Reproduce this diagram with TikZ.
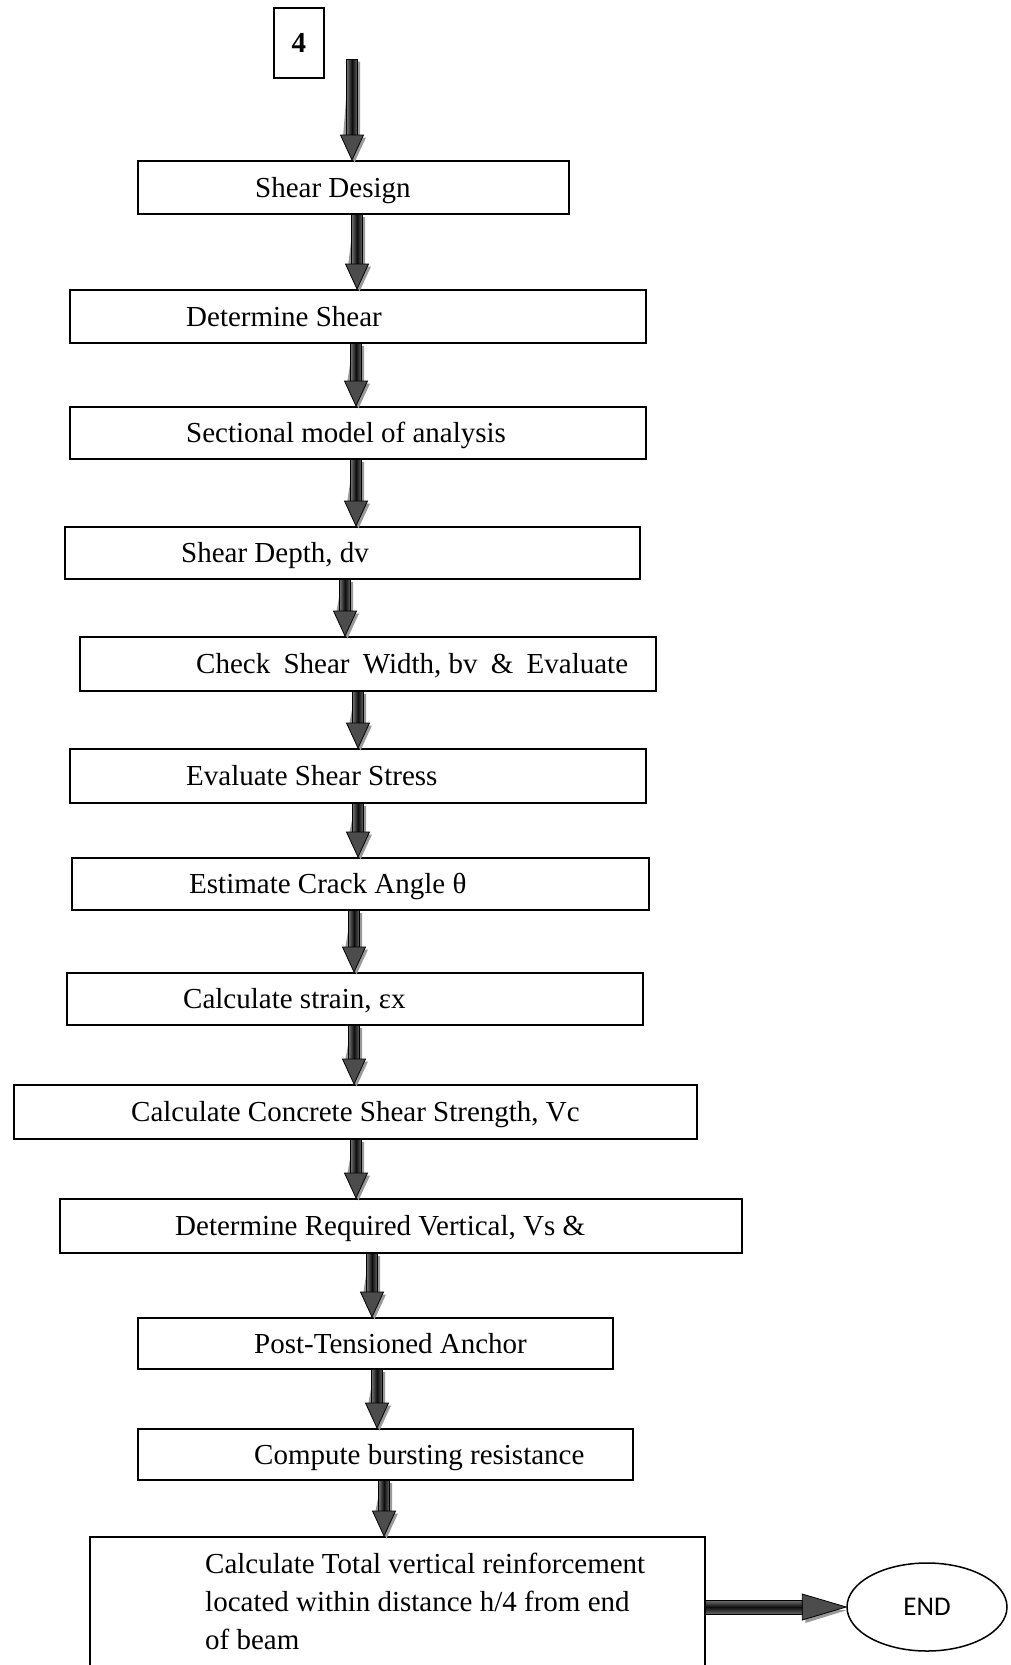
\documentclass[tikz,border=0pt]{standalone}
\usepackage{fontspec}
\setmainfont{Liberation Serif}
\newfontfamily\endfont{Carlito}
\usetikzlibrary{calc,shapes.geometric}

\tikzset{
  stepbox/.style={draw, line width=1.7pt, rectangle, inner sep=0pt},
  lbl/.style={anchor=base west, inner sep=0pt, font=\fontsize{29}{38}\selectfont},
  shaftv/.style={left color=black!55, right color=black!60, middle color=black!95},
  shafth/.style={top color=black!55, bottom color=black!60, middle color=black!95},
  headfill/.style={fill=black!70, draw=black, line width=0.8pt, line join=miter},
  shadowfill/.style={fill=black!40},
}

% flow box from its top-left corner (x1,y1) to bottom-right corner (x2,y2), in px
\newcommand{\flowbox}[5]{%
  \node[stepbox, anchor=north west,
        minimum width={(#4-#2)*1pt}, minimum height={(#5-#3)*1pt}] (#1) at (#2,#3) {};}

% downward block arrow from point #1 to point #2 along x = #3
\newcommand{\varrow}[3]{%
  \fill[shadowfill] let \p1=#1, \p2=#2 in
    ({#3pt-3pt},\y1-2.5pt) -- ({#3pt+8pt},\y1-2.5pt) -- ({#3pt+8pt},\y2+22.5pt)
    -- ({#3pt+14pt},\y2+22.5pt) -- ({#3pt+2.5pt},\y2-2.5pt)
    -- ({#3pt-9pt},\y2+22.5pt) -- cycle;
  \shade[shaftv] let \p1=#1, \p2=#2 in
    ({#3pt-5.5pt},\y1) rectangle ({#3pt+5.5pt},\y2+25pt);
  \draw[line width=0.8pt] let \p1=#1, \p2=#2 in
    ({#3pt-5.5pt},\y1) rectangle ({#3pt+5.5pt},\y2+25pt);
  \filldraw[headfill] let \p1=#1, \p2=#2 in
    ({#3pt-11.5pt},\y2+25pt) -- ({#3pt+11.5pt},\y2+25pt) -- (#3pt,\y2) -- cycle;}

% rightward block arrow from point #1 to point #2
\newcommand{\harrow}[2]{%
  \fill[shadowfill] let \p1=#1, \p2=#2 in
    (\x1,\y2-4pt) -- (\x2-44pt+3pt,\y2-4pt) -- (\x2-44pt+3pt,\y2-16pt)
    -- (\x2+1pt,\y2-3pt) -- cycle;
  \shade[shafth] let \p1=#1, \p2=#2 in
    (\x1,\y2+7pt) rectangle (\x2-44pt,\y2-7pt);
  \draw[line width=0.8pt] let \p1=#1, \p2=#2 in
    (\x1,\y2+7pt) rectangle (\x2-44pt,\y2-7pt);
  \filldraw[headfill] let \p1=#1, \p2=#2 in
    (\x2-44pt,\y2+13pt) -- (\x2-44pt,\y2-13pt) -- (\x2,\y2) -- cycle;}

\begin{document}
\begin{tikzpicture}[x=1pt, y=-1pt]
  \useasboundingbox (0,0) rectangle (1010,1665);
  \clip (0,0) rectangle (1010,1665);

  % page reference box
  \node[stepbox, anchor=north west, minimum width=50pt, minimum height=70pt,
        font=\bfseries\fontsize{29}{34}\selectfont] (ref) at (273,7) {4};

  % process boxes
  \flowbox{b1}{137}{160}{568}{213}
  \flowbox{b2}{69}{289}{645}{342}
  \flowbox{b3}{69}{406}{645}{458}
  \flowbox{b4}{64}{526}{639}{578}
  \flowbox{b5}{79}{636}{655}{690}
  \flowbox{b6}{69}{748}{645}{802}
  \flowbox{b7}{71}{857}{648}{909}
  \flowbox{b8}{66}{972}{642}{1024}
  \flowbox{b9}{13}{1084}{696}{1138}
  \flowbox{b10}{59}{1198}{741}{1252}
  \flowbox{b11}{137}{1317}{612}{1368}
  \flowbox{b12}{137}{1428}{632}{1479}
  \flowbox{b13}{89}{1536}{704}{1700}

  % box texts
  \node[lbl] (t1) at (255,197) {Shear Design};
  \node[lbl] (t2) at (186,326) {Determine Shear};
  \node[lbl] (t3) at (186,442) {Sectional model of analysis};
  \node[lbl] (t4) at (181,562) {Shear Depth, dv};
  \node[lbl] (t5) at (196,673) {Check\hspace{6pt} Shear\hspace{6pt} Width, bv\hspace{6pt} \&\hspace{6pt} Evaluate};
  \node[lbl] (t6) at (186,785) {Evaluate Shear Stress};
  \node[lbl] (t7) at (189,893) {Estimate Crack Angle θ};
  \node[lbl] (t8) at (183,1008) {Calculate strain, εx};
  \node[lbl] (t9) at (131,1121) {Calculate Concrete Shear Strength, Vc};
  \node[lbl] (t10) at (175,1235) {Determine Required Vertical, Vs \&};
  \node[lbl] (t11) at (254,1353) {Post-Tensioned Anchor};
  \node[lbl] (t12) at (254,1464) {Compute bursting resistance};
  \node[lbl] (t13a) at (205,1573) {Calculate Total vertical reinforcement};
  \node[lbl] (t13b) at (205,1611) {located within distance h/4 from end};
  \node[lbl] (t13c) at (205,1649) {of beam};

  % terminal
  \node[ellipse, draw, line width=1.5pt, minimum width=160pt, minimum height=88pt,
        inner sep=0pt, font=\endfont\fontsize{27}{30}\selectfont] (end) at (927,1607) {END};

  % connectors
  \coordinate (start) at (352,59);
  \varrow{(start)}{(b1.north)}{352}
  \varrow{(b1.south)}{(b2.north)}{357}
  \varrow{(b2.south)}{(b3.north)}{356}
  \varrow{(b3.south)}{(b4.north)}{356}
  \varrow{(b4.south)}{(b5.north)}{345}
  \varrow{(b5.south)}{(b6.north)}{358}
  \varrow{(b6.south)}{(b7.north)}{358}
  \varrow{(b7.south)}{(b8.north)}{354}
  \varrow{(b8.south)}{(b9.north)}{354}
  \varrow{(b9.south)}{(b10.north)}{356}
  \varrow{(b10.south)}{(b11.north)}{372}
  \varrow{(b11.south)}{(b12.north)}{377}
  \varrow{(b12.south)}{(b13.north)}{384}
  \harrow{(b13.east)}{(end.west)}
\end{tikzpicture}
\end{document}
